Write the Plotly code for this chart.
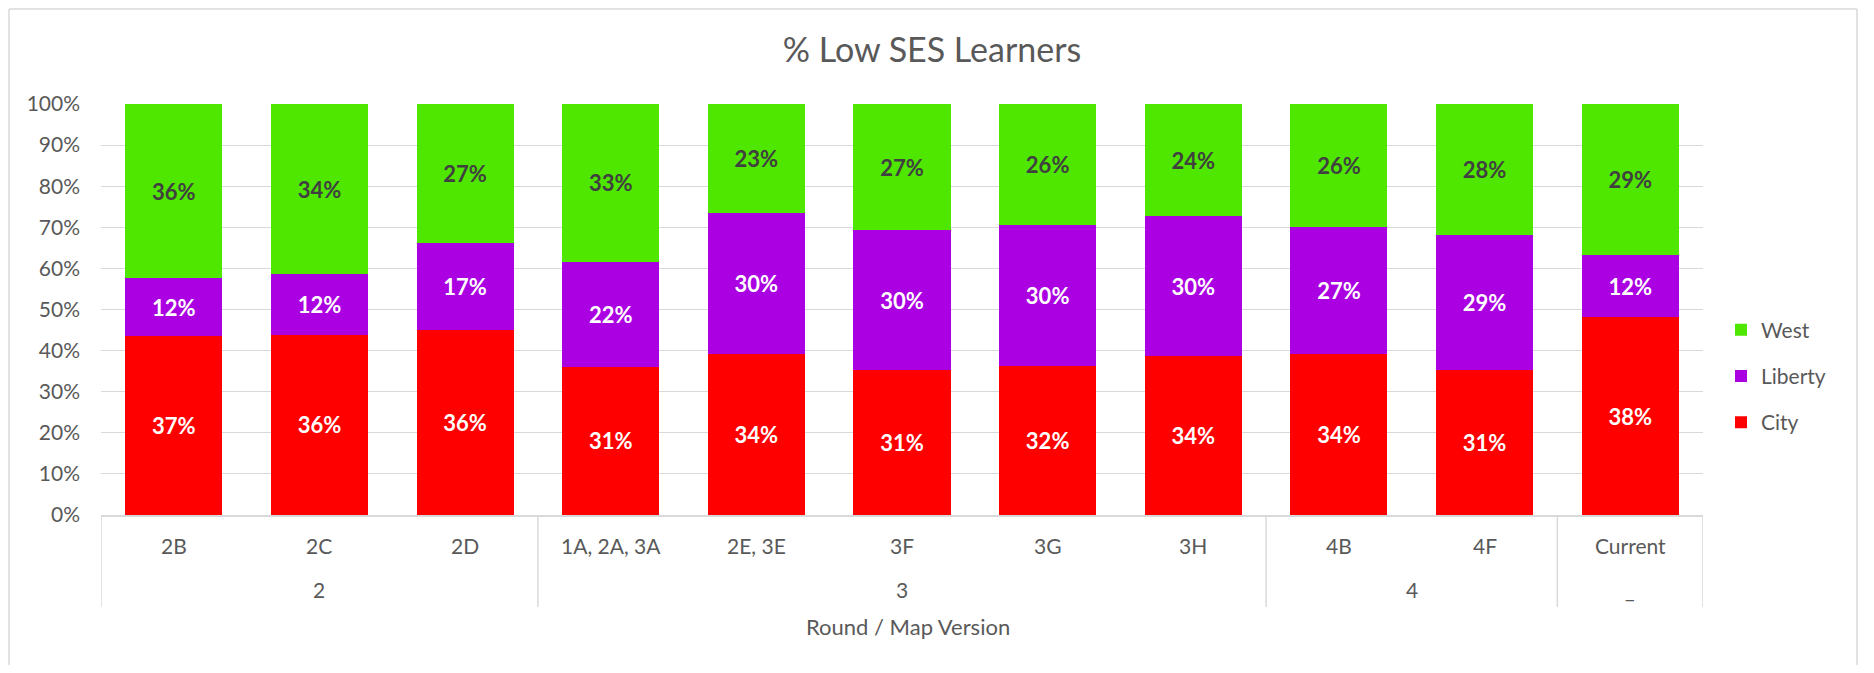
import plotly.graph_objects as go

groups = ["2", "2", "2", "3", "3", "3", "3", "3", "4", "4", "_"]
versions = ["2B", "2C", "2D", "1A, 2A, 3A", "2E, 3E", "3F", "3G", "3H", "4B", "4F", "Current"]
city = [37, 36, 36, 31, 34, 31, 32, 34, 34, 31, 38]
liberty = [12, 12, 17, 22, 30, 30, 30, 30, 27, 29, 12]
west = [36, 34, 27, 33, 23, 27, 26, 24, 26, 28, 29]
y_ticks = [0, 10, 20, 30, 40, 50, 60, 70, 80, 90, 100]
y_tick_labels = [f"{v}%" for v in y_ticks]

# page geometry (the browser adds an 8px body margin around the figure)
PAGE_W, PAGE_H = 1874, 673
OFF = 8
W, H = PAGE_W - 2 * OFF, PAGE_H - 2 * OFF
L, R, T, B = 101 - OFF, 1703 - OFF, 104 - OFF, 515 - OFF
FONT = "Lato"
GREY = "#595959"
LINE = "#D9D9D9"

def fy(p):  # figure pixel -> paper y
    return (B - p) / (B - T)

def fx(p):  # figure pixel -> paper x
    return (p - L) / (R - L)

def px_y(p):
    return fy(p - OFF)

def px_x(p):
    return fx(p - OFF)

idx = list(range(len(versions)))
series = [
    ("City", city, "#FF0000", "white", 3),
    ("Liberty", liberty, "#AA00E2", "white", 2),
    ("West", west, "#4FE600", "#404040", 1),
]

fig = go.Figure()
for name, vals, col, tcol, rank in series:
    fig.add_trace(go.Bar(
        name=name, x=idx, y=vals,
        marker=dict(color=col, line=dict(width=0)),
        text=[f"{v}%" for v in vals],
        textposition="inside", insidetextanchor="middle", textangle=0,
        textfont=dict(family=FONT, size=22, color=tcol, weight="bold"),
        legendgroup=name, legendrank=rank,
    ))

fig.update_layout(
    width=W, height=H,
    barmode="stack", barnorm="percent", bargap=0.333,
    paper_bgcolor="white", plot_bgcolor="white",
    margin=dict(l=L, r=W - R, t=T, b=H - B, autoexpand=False),
    font=dict(family=FONT, size=21, color=GREY),
    title=dict(text="% Low SES Learners", x=(932 - OFF) / W, xanchor="center",
               y=1 - (50 - OFF) / H, yanchor="middle", yref="container",
               font=dict(family=FONT, size=34, color=GREY)),
    legend=dict(x=px_x(1721), xanchor="left", y=px_y(376), yanchor="middle",
                traceorder="grouped", tracegroupgap=16,
                font=dict(family=FONT, size=21, color=GREY),
                bgcolor="rgba(0,0,0,0)"),
    showlegend=True,
)
fig.update_yaxes(range=[0, 100], tickvals=y_ticks, ticktext=y_tick_labels,
                 showgrid=True, gridcolor=LINE, gridwidth=1.3,
                 zeroline=False, showline=False, ticklabelstandoff=20,
                 automargin=False,
                 tickfont=dict(family=FONT, size=21, color=GREY))
fig.update_xaxes(range=[-0.5, len(versions) - 0.5], showticklabels=False,
                 showgrid=False, zeroline=False, automargin=False,
                 showline=True, linecolor=LINE, linewidth=1.5, ticks="")

# category labels (first row)
for i, v in zip(idx, versions):
    fig.add_annotation(text=v, x=i, xref="x", y=px_y(545), yref="paper",
                       xanchor="center", yanchor="middle", showarrow=False,
                       font=dict(family=FONT, size=21, color=GREY))

# group labels (second row) and dividers
bounds = [0]
for i in range(1, len(groups)):
    if groups[i] != groups[i - 1]:
        bounds.append(i)
bounds.append(len(groups))
for a, b in zip(bounds[:-1], bounds[1:]):
    fig.add_annotation(text=groups[a], x=(a + b - 1) / 2, xref="x", y=px_y(589), yref="paper",
                       xanchor="center", yanchor="middle", showarrow=False,
                       font=dict(family=FONT, size=21, color=GREY))
for bnd in bounds:
    fig.add_shape(type="line", xref="x", yref="paper", x0=bnd - 0.5, x1=bnd - 0.5,
                  y0=0, y1=px_y(607), line=dict(color=LINE, width=1.5))

fig.add_annotation(text="Round / Map Version", xref="paper", yref="paper",
                   x=px_x(908), y=px_y(626), xanchor="center", yanchor="middle",
                   showarrow=False, font=dict(family=FONT, size=22, color=GREY))

# chart frame (left, top, right edges; bottom runs off the page)
fl, ft, fr, fb = fx(1), fy(1), px_x(1857), fy(H + 20)
for x0, y0, x1, y1 in [(fl, fb, fl, ft), (fl, ft, fr, ft), (fr, ft, fr, fb)]:
    fig.add_shape(type="line", xref="paper", yref="paper", x0=x0, y0=y0, x1=x1, y1=y1,
                  line=dict(color=LINE, width=1.5), layer="below")

fig.write_html("out.html")
